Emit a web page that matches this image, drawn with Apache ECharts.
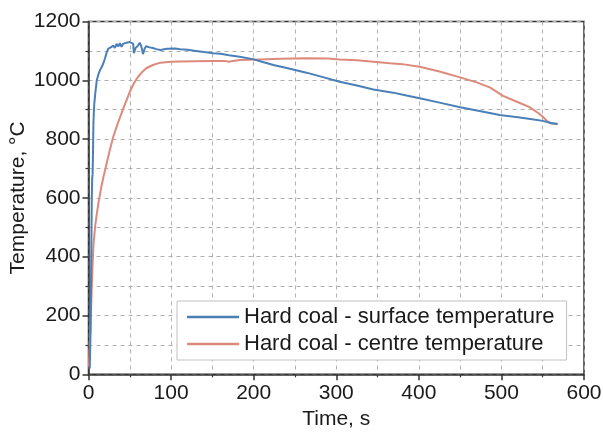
<!DOCTYPE html>
<html>
<head>
<meta charset="utf-8">
<script src="https://cdn.jsdelivr.net/npm/echarts@6/dist/echarts.min.js"></script>
<style>html,body{margin:0;padding:0;background:#fff}#c{width:603px;height:432px}</style>
</head>
<body>
<div id="c"></div>
<script>
var surfaceTime = [1.5,2.5,3,3.5,4,4.5,5,5.5,6,7,8,10,12,14,16,18,20,22,24,27,30,32,34,36,38,40,42,44,46,48,50,52,54,55,57,60,62,64,66,68,70,74,78,82,87,95,105,111,120,130,140,151,160,170,183,199,210,224,240,264,285,304,325,345,369,385,401,425,450,475,498,520,535,550,560,568];
var surfaceTemp = [20,150,300,450,600,670,680,760,860,920,950,1000,1020,1035,1045,1058,1075,1095,1108,1112,1118,1110,1124,1115,1126,1114,1124,1120,1128,1126,1130,1134,1125,1092,1110,1118,1128,1115,1089,1108,1116,1112,1110,1106,1103,1107,1108,1106,1104,1100,1096,1092,1090,1085,1080,1072,1063,1052,1042,1026,1010,995,982,969,958,948,939,924,908,895,882,874,868,862,855,851];
var centreTime = [0.5,1.5,3,4,5,6,8,10,12,15,18,22,26,30,35,40,45,50,55,60,65,70,78,87,100,111,130,151,165,170,175,183,207,232,264,290,304,325,345,365,380,401,425,450,470,486,502,518,534,545,550,555,560,568];
var centreTemp = [26,100,208,300,377,440,502,545,582,630,670,718,765,808,850,888,925,961,990,1012,1028,1041,1052,1060,1063,1064,1065,1066,1066,1063,1066,1069,1071,1073,1075,1074,1071,1068,1063,1058,1055,1046,1030,1010,993,976,947,928,909,888,876,862,853,851];
var seriesNames = ['Hard coal - surface temperature','Hard coal - centre temperature'];
var xTicks = {min:0,max:600,interval:100};
var yTicks = {min:0,max:1200,interval:200};

function pairs(a,b){return a.map(function(v,i){return [v,b[i]];});}
var font = 'Liberation Sans, Arial, sans-serif';
var chart = echarts.init(document.getElementById('c'));
function axisCommon(extra){
  return Object.assign({
    nameMoveOverlap:false,
    axisLine:{show:true,onZero:false,lineStyle:{color:'#333',width:1.5}},
    axisTick:{show:true,inside:false,length:6,lineStyle:{color:'#333',width:1.5}},
    minorTick:{show:true,splitNumber:2,length:3,lineStyle:{color:'#333',width:1.2}},
    splitLine:{show:true,lineStyle:{color:'#b0b0b0',type:[4,4],width:1}},
    minorSplitLine:{show:true,lineStyle:{color:'#b0b0b0',type:[4,4],width:1}},
    axisLabel:{color:'#1a1a1a',fontSize:21,fontFamily:font,margin:8,formatter:function(v){return String(v);}},
    nameTextStyle:{color:'#1a1a1a',fontSize:21,fontFamily:font}
  },extra);
}
chart.setOption({
  animation:false,
  grid:{left:88.5,right:19,top:21.5,bottom:57.7,show:true,borderColor:'#333',borderWidth:1.5,containLabel:false,outerBoundsMode:'none'},
  xAxis:axisCommon({type:'value',min:xTicks.min,max:xTicks.max,interval:xTicks.interval,name:'Time, s',nameLocation:'middle',nameGap:34}),
  yAxis:axisCommon({type:'value',min:yTicks.min,max:yTicks.max,interval:yTicks.interval,name:'Temperature, °C',nameLocation:'middle',nameGap:60}),
  legend:{
    orient:'vertical',left:177,top:301,
    backgroundColor:'#fff',borderColor:'#c0c0c0',borderWidth:1,
    padding:[5,12,5,10],itemGap:5,itemWidth:52,itemHeight:2.5,icon:'rect',
    textStyle:{fontSize:22,fontFamily:font,color:'#1a1a1a',lineHeight:22},
    data:seriesNames
  },
  series:[
    {name:seriesNames[0],type:'line',symbol:'none',data:pairs(surfaceTime,surfaceTemp),lineStyle:{color:'#4a7fb8',width:2},itemStyle:{color:'#4a7fb8'},z:3},
    {name:seriesNames[1],type:'line',symbol:'none',data:pairs(centreTime,centreTemp),lineStyle:{color:'#dd8a7c',width:2},itemStyle:{color:'#dd8a7c'},z:2}
  ]
});
</script>
</body>
</html>
